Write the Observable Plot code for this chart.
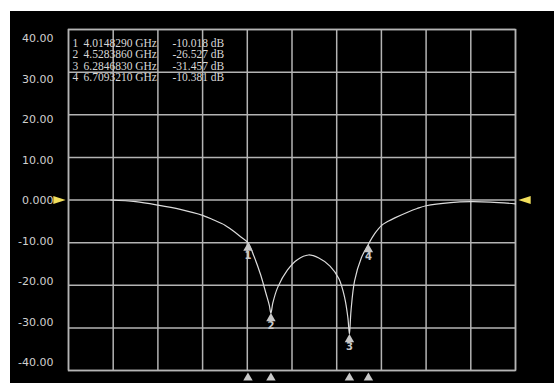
<!DOCTYPE html>
<html>
<head>
<meta charset="utf-8">
<script src="https://cdn.jsdelivr.net/npm/d3@7"></script>
<script src="https://cdn.jsdelivr.net/npm/@observablehq/plot@0.6"></script>
<style>
  html, body { margin: 0; padding: 0; background: #fff; }
  #screen { position: relative; width: 554px; height: 385px; overflow: hidden; }
  #panel { position: absolute; left: 10px; top: 11px; width: 544px; height: 372px; background: #000; }
  #screen svg { position: absolute; left: 0; top: 0; }
</style>
</head>
<body>
<div id="screen"><div id="panel"></div></div>
<script>
// S21 trace: frequency (GHz) and magnitude (dB)
const freqGHz = [0.95, 1.5, 2.0, 2.5, 3.0, 3.25, 3.5, 3.65, 3.85, 4.0148290, 4.15, 4.3, 4.42, 4.49, 4.5283860, 4.57, 4.68, 4.9, 5.12, 5.37, 5.6, 5.85, 6.05, 6.18, 6.25, 6.2846830, 6.32, 6.4, 6.55, 6.7093210, 6.85, 7.0, 7.15, 7.3, 7.6, 7.8, 8.0, 8.55, 9.0, 9.44, 10.0];
const magDb   = [0.0, -0.4, -1.2, -2.2, -3.6, -4.7, -5.9, -7.0, -8.6, -10.018, -13.2, -17.6, -22.0, -24.6, -26.527, -24.2, -20.5, -16.4, -14.0, -12.9, -13.6, -15.5, -18.5, -23.0, -27.6, -31.457, -26.0, -19.0, -13.6, -10.381, -7.9, -6.0, -5.0, -4.2, -2.8, -2.0, -1.35, -0.6, -0.4, -0.5, -0.9];

// Markers
const markerId   = [1, 2, 3, 4];
const markerFreq = [4.0148290, 4.5283860, 6.2846830, 6.7093210];
const markerDb   = [-10.018, -26.527, -31.457, -10.381];

// Scale: reference level and division labels
const refLevel    = 0;
const xDivisions  = [0, 1, 2, 3, 4, 5, 6, 7, 8, 9, 10];
const yTicks      = [40, 30, 20, 10, 0, -10, -20, -30, -40];
const yTickLabels = ["40.00", "30.00", "20.00", "10.00", "0.000", "-10.00", "-20.00", "-30.00", "-40.00"];

const trace   = freqGHz.map((f, i) => ({f, db: magDb[i]}));
const markers = markerId.map((id, i) => ({id, f: markerFreq[i], db: markerDb[i]}));

// marker readout, one column per field
const colId   = markers.map(m => String(m.id)).join("\n");
const colFreq = markers.map(m => `${m.f.toFixed(7)} GHz`).join("\n");
const colMag  = markers.map(m => `-${Math.abs(m.db).toFixed(3)} dB`).join("\n");

const gridColor = "#b4b4b4";
const traceColor = "#dcdcdc";
const markColor = "#c8c8c8";
const refColor = "#f2df5c";
const readoutStyle = {frameAnchor: "top-left", textAnchor: "start", lineAnchor: "top", lineHeight: 1.0, dy: 9, fill: "#d8d8d8", fontSize: 11.5, fontFamily: "Liberation Serif"};

// reference-level arrow heads
const arrowRight = {draw(ctx, size) { const s = Math.sqrt(size); ctx.moveTo(s * 0.5, 0); ctx.lineTo(-s * 0.5, -s * 0.33); ctx.lineTo(-s * 0.5, s * 0.33); ctx.closePath(); }};
const arrowLeft  = {draw(ctx, size) { const s = Math.sqrt(size); ctx.moveTo(-s * 0.5, 0); ctx.lineTo(s * 0.5, -s * 0.33); ctx.lineTo(s * 0.5, s * 0.33); ctx.closePath(); }};

const main = Plot.plot({
  width: 554, height: 385,
  marginLeft: 68, marginRight: 39, marginTop: 29, marginBottom: 15,
  style: {background: "transparent", color: traceColor},
  x: {domain: [0, 10], axis: null},
  y: {domain: [-40, 40], axis: null},
  marks: [
    Plot.gridX(xDivisions, {stroke: gridColor, strokeOpacity: 1, strokeWidth: 1.5}),
    Plot.gridY(yTicks, {stroke: gridColor, strokeOpacity: 1, strokeWidth: 1.5}),
    Plot.frame({stroke: gridColor, strokeWidth: 1.5}),
    Plot.line(trace, {x: "f", y: "db", stroke: traceColor, strokeWidth: 1.2, curve: "catmull-rom"}),
    Plot.dot(markers, {x: "f", y: "db", symbol: "triangle", r: 3.5, fill: markColor, stroke: null, dy: 5.4}),
    Plot.text(markers, {x: "f", y: "db", text: "id", dy: 13, fill: markColor, fontSize: 10, fontWeight: "bold", fontFamily: "DejaVu Sans"}),
    Plot.dot(markers, {x: "f", frameAnchor: "bottom", symbol: "triangle", r: 3.5, fill: markColor, stroke: null, dy: 7.4}),
    Plot.dot([refLevel], {y: d => d, frameAnchor: "left", symbol: arrowRight, r: 7, fill: refColor, stroke: null, dx: -9}),
    Plot.dot([refLevel], {y: d => d, frameAnchor: "right", symbol: arrowLeft, r: 7, fill: refColor, stroke: null, dx: 9}),
    Plot.text([colId], {...readoutStyle, text: d => d, dx: 4}),
    Plot.text([colFreq], {...readoutStyle, text: d => d, dx: 15}),
    Plot.text([colMag], {...readoutStyle, text: d => d, dx: 104})
  ]
});

// division labels sit on their own evenly spaced column
const labels = Plot.plot({
  width: 554, height: 385,
  marginLeft: 68, marginRight: 39, marginTop: 38, marginBottom: 23,
  style: {background: "transparent"},
  x: {axis: null},
  y: {domain: [-40, 40], axis: null},
  marks: [
    Plot.text(yTicks, {y: d => d, text: (d, i) => yTickLabels[i], frameAnchor: "left", textAnchor: "end", dx: -15, fill: "#d0d0d0", fontSize: 11, fontFamily: "DejaVu Sans"})
  ]
});

const screen = document.getElementById("screen");
screen.appendChild(main);
screen.appendChild(labels);
</script>
</body>
</html>
